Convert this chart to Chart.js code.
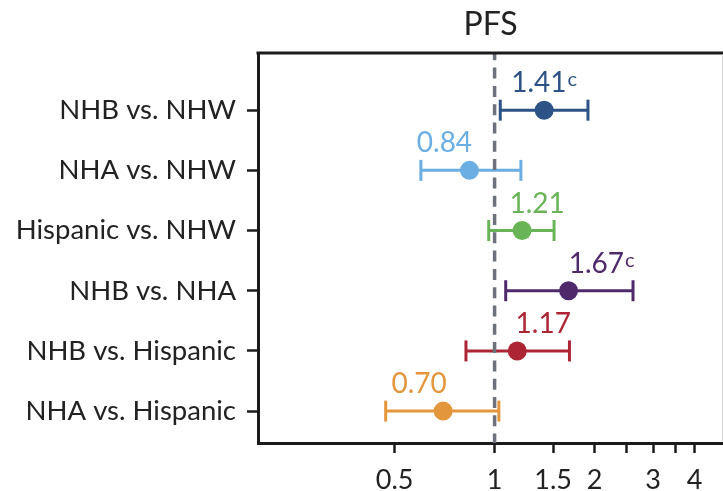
<!DOCTYPE html>
<html><head><meta charset="utf-8">
<script src="https://cdn.jsdelivr.net/npm/chart.js@4/dist/chart.umd.min.js"></script>
<style>html,body{margin:0;padding:0;background:#fff;}#wrap{width:723px;height:491px;position:relative;}</style>
</head><body><div id="wrap"><canvas id="c"></canvas></div>
<script>
const categories = ["NHB vs. NHW","NHA vs. NHW","Hispanic vs. NHW","NHB vs. NHA","NHB vs. Hispanic","NHA vs. Hispanic"];
const hazardRatios = [1.41,0.84,1.21,1.67,1.17,0.70];
const ciLower = [1.04,0.60,0.96,1.08,0.82,0.47];
const ciUpper = [1.91,1.20,1.51,2.61,1.68,1.03];
const valueLabels = ["1.41","0.84","1.21","1.67","1.17","0.70"];
const labelNotes = ["c","","","c","",""];
const xTickValues = [0.5,1,1.5,2,2.5,3,3.5,4];
const xTickLabels = ["0.5","1","1.5","2","","3","","4"];
const titleText = "PFS";
const referenceValue = 1;

// styling (kept apart from the data)
const colors = ["#2c5286","#6aaee3","#68b457","#4f2a6b","#ad2535","#e3963c"];
const labelDx = [0,-25,15,33,26,-24];
const FONT = "Lato, 'Open Sans', sans-serif";
const INK = "#222222";
const Y_MIN = -0.95, Y_MAX = 5.53;

const datasets = [];
datasets.push({
  type:'scatter', data: hazardRatios.map((v,i)=>({x:v,y:i})),
  pointBackgroundColor: colors, pointBorderColor: colors,
  pointRadius: 9.5, pointHoverRadius: 9.5, pointBorderWidth: 0, order: 0
});
datasets.push({
  type:'line', data:[{x:referenceValue,y:Y_MIN},{x:referenceValue,y:Y_MAX}],
  borderColor:'#6c717c', borderWidth:3.5, borderDash:[11,7.3], borderDashOffset:3.7, pointRadius:0, order:1
});
categories.forEach((c,i)=>{
  datasets.push({
    type:'line', data:[{x:ciLower[i],y:i},{x:ciUpper[i],y:i}],
    borderColor: colors[i], borderWidth: 3,
    pointStyle:'line', rotation:90, pointRadius:10.5, pointHoverRadius:10.5,
    pointBorderWidth:3, pointBorderColor: colors[i], order:2
  });
});

const decor = {
  id:'decor',
  afterDraw(chart){
    const ctx = chart.ctx, a = chart.chartArea;
    const xs = chart.scales.x, ys = chart.scales.y;
    ctx.save();
    // frame top + right
    ctx.strokeStyle = '#1b1b1b'; ctx.lineWidth = 3;
    ctx.beginPath(); ctx.moveTo(a.left-1.5, a.top); ctx.lineTo(723, a.top); ctx.stroke();
    ctx.strokeStyle = '#d4d4d4'; ctx.lineWidth = 1;
    ctx.beginPath(); ctx.moveTo(722.5, a.top+1.5); ctx.lineTo(722.5, a.bottom-1.5); ctx.stroke();
    // title
    ctx.fillStyle = INK; ctx.font = "32px " + FONT;
    ctx.textAlign = 'center'; ctx.textBaseline = 'alphabetic';
    ctx.fillText(titleText, (a.left + a.right)/2, 35);
    // value labels
    hazardRatios.forEach((v,i)=>{
      const px = xs.getPixelForValue(v) + labelDx[i];
      const py = ys.getPixelForValue(i) - 18;
      ctx.font = "28px " + FONT;
      const w1 = ctx.measureText(valueLabels[i]).width;
      ctx.font = "20px " + FONT;
      const w2 = labelNotes[i] ? ctx.measureText(labelNotes[i]).width + 1 : 0;
      const x0 = px - (w1 + w2)/2;
      ctx.fillStyle = colors[i]; ctx.textAlign = 'left';
      ctx.font = "28px " + FONT;
      ctx.fillText(valueLabels[i], x0, py);
      if (labelNotes[i]) { ctx.font = "20px " + FONT; ctx.fillText(labelNotes[i], x0 + w1 + 1, py - 6); }
    });
    ctx.restore();
  }
};

new Chart(document.getElementById('c'), {
  data:{ datasets },
  options:{
    responsive:true, maintainAspectRatio:false, animation:false,
    layout:{ autoPadding:false, padding:{ top:53, right:0, left:0, bottom:0 } },
    plugins:{ legend:{display:false}, tooltip:{enabled:false}, title:{display:false} },
    scales:{
      x:{
        type:'logarithmic', min:0.194, max:4.87, bounds:'data',
        afterBuildTicks:s=>{ s.ticks = xTickValues.map(v=>({value:v})); },
        afterFit:s=>{ s.height = 48; s.paddingLeft = 0; s.paddingRight = 0; },
        ticks:{ callback:(v,i)=>xTickLabels[i], font:{family:FONT,size:27}, color:INK, padding:11, maxRotation:0, autoSkip:false },
        grid:{ display:true, drawOnChartArea:false, drawTicks:true, tickLength:10, tickWidth:2.5, tickColor:'#1b1b1b' },
        border:{ display:true, width:3, color:'#1b1b1b' }
      },
      y:{
        type:'linear', reverse:true, min:Y_MIN, max:Y_MAX, bounds:'data',
        afterBuildTicks:s=>{ s.ticks = categories.map((c,i)=>({value:i})); },
        afterFit:s=>{ s.width = 258; s.paddingTop = 0; s.paddingBottom = 0; },
        ticks:{ callback:(v,i)=>categories[i], font:{family:FONT,size:27.5}, color:INK, padding:11, autoSkip:false },
        grid:{ display:true, drawOnChartArea:false, drawTicks:true, tickLength:11, tickWidth:2.5, tickColor:'#1b1b1b' },
        border:{ display:true, width:3, color:'#1b1b1b' }
      }
    }
  },
  plugins:[decor]
});
</script></body></html>
